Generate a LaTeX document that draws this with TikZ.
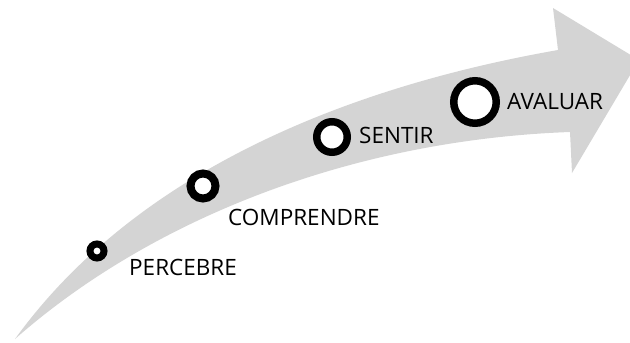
\documentclass[tikz,border=0pt]{standalone}
\usepackage{fontspec}
\setmainfont{Open Sans}
\usepackage{xcolor}
\usepackage{tikz}
\usetikzlibrary{shapes,positioning}
\definecolor{arrowgray}{RGB}{212,212,212}
\tikzset{ring/.style={circle,draw,fill=white,inner sep=0pt},
         lbl/.style={anchor=west,inner sep=0pt,font=\fontsize{22.5}{26}\selectfont}}

\begin{document}
\begin{tikzpicture}[x=1pt,y=-1pt]
    \useasboundingbox (0,0) rectangle (630,343);
    \clip (0,0) rectangle (630,343);
    % curved arrow
    \fill[arrowgray] (15,339) .. controls (130,180) and (330,90) .. (558,50)
        -- (553,8) -- (639,60) -- (572,173) -- (570,132)
        .. controls (350,140) and (150,220) .. (15,339) -- cycle;

    \node[ring,line width=7pt,minimum size=14pt] (p) at (97,251) {};
    \node[ring,line width=8pt,minimum size=25pt] (c) at (203,186) {};
    \node[ring,line width=7.5pt,minimum size=30.5pt] (s) at (332,137) {};
    \node[ring,line width=7.5pt,minimum size=42.5pt] (a) at (475,102) {};

    \node[lbl] (pl) at (129,267) {PERCEBRE};
    \node[lbl] (cl) at (228,217) {COMPRENDRE};
    \node[lbl] (sl) at (359,135.5) {SENTIR};
    \node[lbl] (al) at (507,101.5) {AVALUAR};
\end{tikzpicture}
\end{document}
